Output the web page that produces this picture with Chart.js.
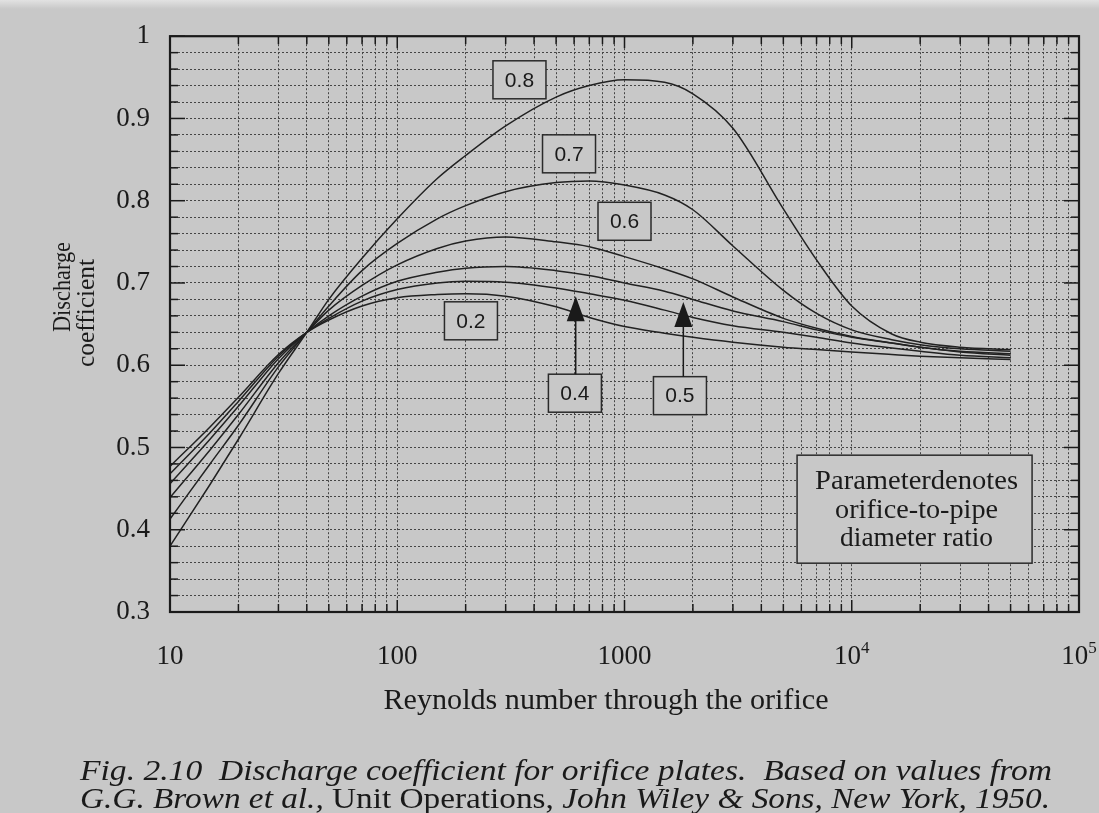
<!DOCTYPE html>
<html>
<head>
<meta charset="utf-8">
<script src="https://cdn.jsdelivr.net/npm/chart.js@4/dist/chart.umd.min.js"></script>
<style>
html,body{margin:0;padding:0;background:#c8c8c8;}
canvas{display:block;}
</style>
</head>
<body>
<canvas id="c" width="1099" height="813"></canvas>
<script>
// ---------------- data ----------------
const reynolds = [10, 15, 20, 30, 40, 50, 70, 100, 150, 200, 300, 500, 700, 1000, 1500, 2000, 3000, 5000, 7000, 10000, 15000, 20000, 30000, 50000];
const cd_beta02 = [0.477, 0.525, 0.561, 0.613, 0.640, 0.655, 0.672, 0.682, 0.686, 0.687, 0.684, 0.671, 0.658, 0.647, 0.639, 0.634, 0.628, 0.622, 0.619, 0.616, 0.613, 0.611, 0.609, 0.607];
const cd_beta04 = [0.468, 0.518, 0.556, 0.611, 0.640, 0.657, 0.678, 0.692, 0.700, 0.702, 0.701, 0.694, 0.687, 0.679, 0.667, 0.658, 0.648, 0.640, 0.634, 0.627, 0.621, 0.617, 0.612, 0.609];
const cd_beta05 = [0.456, 0.510, 0.550, 0.608, 0.640, 0.660, 0.684, 0.702, 0.713, 0.718, 0.720, 0.715, 0.709, 0.700, 0.690, 0.680, 0.666, 0.653, 0.643, 0.634, 0.627, 0.622, 0.616, 0.612];
const cd_beta06 = [0.439, 0.497, 0.540, 0.603, 0.640, 0.667, 0.697, 0.722, 0.742, 0.751, 0.756, 0.750, 0.744, 0.732, 0.717, 0.705, 0.683, 0.657, 0.645, 0.635, 0.627, 0.622, 0.617, 0.614];
const cd_beta07 = [0.413, 0.480, 0.527, 0.598, 0.640, 0.672, 0.715, 0.748, 0.778, 0.794, 0.811, 0.822, 0.824, 0.819, 0.807, 0.789, 0.745, 0.691, 0.663, 0.643, 0.631, 0.625, 0.620, 0.617];
const cd_beta08 = [0.380, 0.455, 0.510, 0.590, 0.640, 0.680, 0.730, 0.778, 0.827, 0.855, 0.891, 0.926, 0.940, 0.947, 0.944, 0.930, 0.888, 0.790, 0.728, 0.672, 0.638, 0.628, 0.622, 0.619];
const seriesLabels = ['0.2', '0.4', '0.5', '0.6', '0.7', '0.8'];
const seriesValues = [cd_beta02, cd_beta04, cd_beta05, cd_beta06, cd_beta07, cd_beta08];

const yTickLabels = ['0.3', '0.4', '0.5', '0.6', '0.7', '0.8', '0.9', '1'];
const xTickValues = [10, 100, 1000, 10000, 100000];
const xTickBase = ['10', '100', '1000', '10', '10'];
const xTickExp = ['', '', '', '4', '5'];

const xTitle = 'Reynolds number through the orifice';
const yTitleLines = ['Discharge', 'coefficient'];
const noteLines = ['Parameterdenotes', 'orifice-to-pipe', 'diameter ratio'];
const captionLine1 = [['i', 'Fig. 2.10  Discharge coefficient for orifice plates.  Based on values from']];
const captionLine2 = [['i', 'G.G. Brown et al., '], ['n', 'Unit Operations, '], ['i', 'John Wiley & Sons, New York, 1950.']];

// ---------------- styling / layout ----------------
const BG = '#c8c8c8';
const INK = '#1a1a1a';
const GRID = '#454545';
const SERIF = '"Liberation Serif", "Times New Roman", serif';
const SANS = '"Liberation Sans", Arial, sans-serif';

// annotation placement (data coordinates: Reynolds number, discharge coefficient)
const labelBoxes = [
  {text: '0.8', re: 345, cd: 0.947},
  {text: '0.7', re: 570, cd: 0.857},
  {text: '0.6', re: 1000, cd: 0.775},
  {text: '0.2', re: 211, cd: 0.654},
  {text: '0.4', re: 605, cd: 0.566, arrowRe: 610, arrowCd: 0.684},
  {text: '0.5', re: 1754, cd: 0.563, arrowRe: 1815, arrowCd: 0.677}
];
const noteBox = {re: 18900, cd: 0.425, w: 235, h: 108};

const xGridValues = [];
for (let e = 1; e <= 4; e++) for (let m = 1; m <= 9; m++) xGridValues.push(m * Math.pow(10, e));
xGridValues.push(100000);
const yGridValues = [];
for (let i = 0; i <= 35; i++) yGridValues.push(Math.round((0.3 + i * 0.02) * 100) / 100);

function isMajorY(v) { const k = (v - 0.3) * 10; return Math.abs(k - Math.round(k)) < 1e-6; }
function isMajorX(v) { const k = Math.log10(v); return Math.abs(k - Math.round(k)) < 1e-9; }

function fitText(ctx, text, cx, y, width) {
  const w = ctx.measureText(text).width;
  ctx.save();
  ctx.translate(cx, y);
  ctx.scale(width / w, 1);
  ctx.textAlign = 'center';
  ctx.fillText(text, 0, 0);
  ctx.restore();
}
function drawSegments(ctx, segs, x0, y, width, size) {
  const fonts = {i: 'italic ' + size + 'px ' + SERIF, n: size + 'px ' + SERIF};
  let total = 0;
  segs.forEach(s => { ctx.font = fonts[s[0]]; total += ctx.measureText(s[1]).width; });
  ctx.save();
  ctx.translate(x0, y);
  ctx.scale(width / total, 1);
  ctx.textAlign = 'left';
  let x = 0;
  segs.forEach(s => { ctx.font = fonts[s[0]]; ctx.fillText(s[1], x, 0); x += ctx.measureText(s[1]).width; });
  ctx.restore();
}

const decorations = {
  id: 'decorations',
  beforeDraw(chart) {
    const ctx = chart.ctx;
    ctx.save();
    ctx.fillStyle = BG;
    ctx.fillRect(0, 0, chart.width, chart.height);
    const g = ctx.createLinearGradient(0, 0, 0, 9);
    g.addColorStop(0, '#e2e2e2');
    g.addColorStop(1, BG);
    ctx.fillStyle = g;
    ctx.fillRect(0, 0, chart.width, 9);
    ctx.restore();
  },
  afterDraw(chart) {
    const {ctx, chartArea: a, scales: {x, y}} = chart;
    ctx.save();
    ctx.setLineDash([]);
    ctx.strokeStyle = INK;
    ctx.fillStyle = INK;
    const line = (x1, y1, x2, y2) => { ctx.beginPath(); ctx.moveTo(x1, y1); ctx.lineTo(x2, y2); ctx.stroke(); };

    // inward tick marks
    ctx.lineWidth = 1.5;
    x.ticks.forEach(t => {
      const px = x.getPixelForValue(t.value);
      const L = isMajorX(t.value) ? 12 : 8;
      line(px, a.bottom, px, a.bottom - L);
      line(px, a.top, px, a.top + L);
    });
    y.ticks.forEach(t => {
      const py = y.getPixelForValue(t.value);
      const L = isMajorY(t.value) ? 15 : 8;
      line(a.left, py, a.left + L, py);
      line(a.right, py, a.right - L, py);
    });
    // frame
    ctx.lineWidth = 2.2;
    ctx.strokeRect(a.left, a.top, a.right - a.left, a.bottom - a.top);

    // x tick labels with superscripts
    ctx.textBaseline = 'alphabetic';
    xTickValues.forEach((v, i) => {
      const px = x.getPixelForValue(v);
      ctx.font = '27px ' + SERIF;
      const wb = ctx.measureText(xTickBase[i]).width;
      ctx.font = '17px ' + SERIF;
      const we = xTickExp[i] ? ctx.measureText(xTickExp[i]).width : 0;
      const x0 = px - (wb + we) / 2;
      ctx.font = '27px ' + SERIF;
      ctx.textAlign = 'left';
      ctx.fillText(xTickBase[i], x0, 664);
      if (xTickExp[i]) { ctx.font = '17px ' + SERIF; ctx.fillText(xTickExp[i], x0 + wb, 653); }
    });

    // axis titles
    ctx.font = '29px ' + SERIF;
    fitText(ctx, xTitle, 606, 709, 445);
    ctx.font = '25px ' + SERIF;
    ctx.textBaseline = 'middle';
    const yCenters = [[63, 287], [87, 313]];
    const yWidths = [90, 108];
    yTitleLines.forEach((t, i) => {
      ctx.save();
      ctx.translate(yCenters[i][0], yCenters[i][1]);
      ctx.rotate(-Math.PI / 2);
      fitText(ctx, t, 0, 0, yWidths[i]);
      ctx.restore();
    });

    // series label boxes and arrows
    labelBoxes.forEach(b => {
      const cx = x.getPixelForValue(b.re), cy = y.getPixelForValue(b.cd);
      const w = 53, h = 38;
      ctx.fillStyle = BG;
      ctx.fillRect(cx - w / 2, cy - h / 2, w, h);
      ctx.strokeStyle = '#2a2a2a';
      ctx.lineWidth = 1.5;
      ctx.strokeRect(cx - w / 2, cy - h / 2, w, h);
      ctx.fillStyle = INK;
      ctx.font = '21px ' + SANS;
      ctx.textAlign = 'center';
      ctx.textBaseline = 'middle';
      ctx.fillText(b.text, cx, cy + 1);
      if (b.arrowRe) {
        const ax = x.getPixelForValue(b.arrowRe), ay = y.getPixelForValue(b.arrowCd);
        ctx.strokeStyle = INK;
        ctx.lineWidth = 1.5;
        line(ax, cy - h / 2, ax, ay + 20);
        ctx.beginPath();
        ctx.moveTo(ax, ay);
        ctx.lineTo(ax - 9, ay + 25);
        ctx.lineTo(ax + 9, ay + 25);
        ctx.closePath();
        ctx.fill();
      }
    });

    // note box
    const nx = x.getPixelForValue(noteBox.re), ny = y.getPixelForValue(noteBox.cd);
    const l = nx - noteBox.w / 2, t = ny - noteBox.h / 2;
    ctx.fillStyle = BG;
    ctx.fillRect(l, t, noteBox.w, noteBox.h);
    ctx.strokeStyle = '#2a2a2a';
    ctx.lineWidth = 1.5;
    ctx.strokeRect(l, t, noteBox.w, noteBox.h);
    ctx.fillStyle = INK;
    ctx.font = '27px ' + SERIF;
    ctx.textBaseline = 'alphabetic';
    const noteWidths = [203, 163, 153];
    const noteBase = [34, 63, 91];
    noteLines.forEach((s, i) => fitText(ctx, s, nx + 2, t + noteBase[i], noteWidths[i]));

    // caption
    drawSegments(ctx, captionLine1, 80, 780, 972, 30);
    drawSegments(ctx, captionLine2, 80, 808, 970, 30);
    ctx.restore();
  }
};

new Chart(document.getElementById('c'), {
  type: 'line',
  data: {
    datasets: seriesLabels.map((lab, k) => ({
      label: lab,
      data: reynolds.map((r, i) => ({x: r, y: seriesValues[k][i]})),
      borderColor: '#222222',
      borderWidth: 1.5,
      pointRadius: 0,
      fill: false,
      cubicInterpolationMode: 'monotone'
    }))
  },
  options: {
    responsive: false,
    animation: false,
    devicePixelRatio: 1,
    layout: {padding: {left: 0, top: 31, right: 20, bottom: 0}},
    plugins: {legend: {display: false}, tooltip: {enabled: false}},
    scales: {
      x: {
        type: 'logarithmic', min: 10, max: 100000,
        afterBuildTicks: s => { s.ticks = xGridValues.map(v => ({value: v})); },
        afterFit: s => { s.height = 201; },
        ticks: {display: false},
        grid: {color: GRID, lineWidth: 1, drawTicks: false},
        border: {display: false, dash: [2, 2]}
      },
      y: {
        type: 'linear', min: 0.3, max: 1.0,
        afterBuildTicks: s => { s.ticks = yGridValues.map(v => ({value: v})); },
        afterFit: s => { s.width = 170; },
        ticks: {
          autoSkip: false,
          padding: 20,
          color: INK,
          font: {family: SERIF, size: 27},
          callback: v => isMajorY(v) ? yTickLabels[Math.round((v - 0.3) * 10)] : ''
        },
        grid: {color: GRID, lineWidth: 1, drawTicks: false},
        border: {display: false, dash: [2, 2]}
      }
    }
  },
  plugins: [decorations]
});
</script>
</body>
</html>
